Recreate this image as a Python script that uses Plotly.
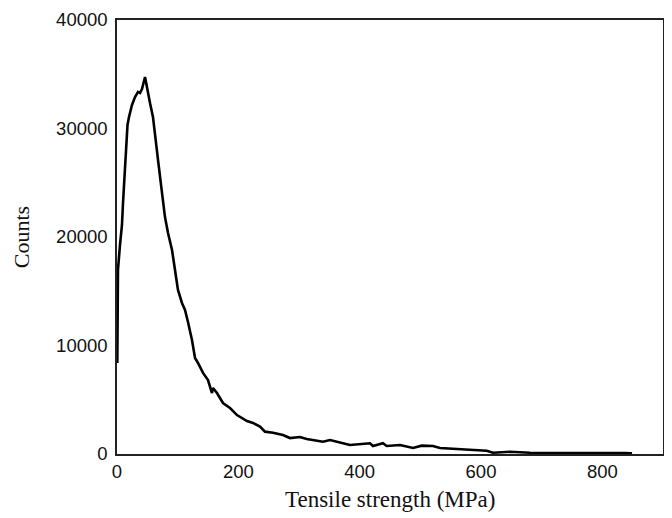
import plotly.graph_objects as go

strength_mpa = [0.5, 1.0, 1.6, 4.9, 8.2, 9.9, 11.5, 13.2, 14.8, 17.3, 19.8, 22.3, 24.7, 29.7,
                34.6, 37.9, 41.2, 46.2, 49.4, 54.4, 59.3, 62.6, 67.6, 74.2, 79.1, 84.1, 90.7,
                95.6, 100.5, 107.1, 112.1, 117.0, 123.6, 128.6, 133.5, 141.8, 150.0, 156.6,
                158.2, 164.8, 174.7, 186.3, 197.8, 214.3, 224.2, 235.7, 243.9, 257.1, 273.6,
                285.1, 301.6, 312.7, 339.5, 351.1, 367.6, 384.0, 417.0, 421.9, 438.4, 444.5,
                466.5, 487.9, 502.2, 520.8, 532.4, 559.9, 586.8, 609.4, 619.7, 647.8, 680.7,
                751.6, 796.0, 837.0, 849.0]
counts = [8390, 12350, 16960, 19260, 21110, 23130, 24790, 26180, 28670, 30320, 31060, 31710,
          32170, 32900, 33370, 33270, 33640, 34750, 33730, 32350, 31060, 29220, 27100, 24060,
          21840, 20370, 18800, 16960, 15120, 13920, 13270, 12170, 10510, 8850, 8390, 7470,
          6820, 5620, 6080, 5620, 4700, 4240, 3590, 3040, 2860, 2520, 2060, 1960, 1750, 1470,
          1570, 1380, 1130, 1290, 1040, 830, 990, 740, 990, 740, 830, 550, 770, 740, 550, 460,
          430, 300, 120, 210, 120, 65, 90, 90, 65]

x_ticks = [0, 200, 400, 600, 800]
y_ticks = [0, 10000, 20000, 30000, 40000]
x_title = "Tensile strength (MPa)"
y_title = "Counts"

fig = go.Figure()
fig.add_trace(go.Scatter(x=strength_mpa, y=counts, mode="lines",
                         line=dict(color="black", width=2.6), showlegend=False))

tick_font = dict(family="Liberation Sans, Arial, sans-serif", size=18.5, color="#111111")
xtitle_font = dict(family="Liberation Serif, Times New Roman, serif", size=23, color="#111111")
ytitle_font = dict(family="Liberation Serif, Times New Roman, serif", size=22, color="#111111")

# page body has an 8px default margin, so the figure is sized to fit the 672x518 window
fig.update_layout(
    width=664, height=510,
    margin=dict(l=109, r=9, t=12, b=64),
    paper_bgcolor="white", plot_bgcolor="white",
    xaxis=dict(range=[0, 900], tickvals=x_ticks, ticktext=[str(v) for v in x_ticks],
               showgrid=False, zeroline=False, showline=True, linecolor="#222222",
               linewidth=1.5, mirror=True, ticks="", tickfont=tick_font,
               ticklabelstandoff=0, automargin=False),
    yaxis=dict(range=[0, 40000], tickvals=y_ticks, ticktext=[str(v) for v in y_ticks],
               showgrid=False, zeroline=False, showline=True, linecolor="#222222",
               linewidth=1.5, mirror=True, ticks="", tickfont=tick_font,
               ticklabelstandoff=4, automargin=False,
               title=dict(text=y_title, font=ytitle_font, standoff=20)),
)
fig.add_annotation(text=x_title, xref="paper", yref="paper", x=0.5, y=-0.105,
                   xanchor="center", yanchor="middle", showarrow=False, font=xtitle_font)

fig.write_html("out.html")
